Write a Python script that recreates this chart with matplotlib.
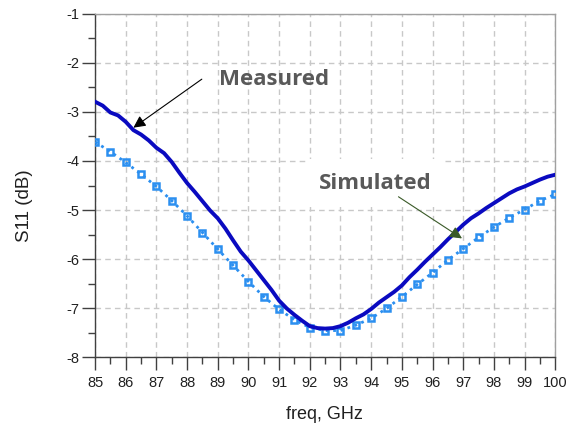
import matplotlib
matplotlib.use('Agg')
import matplotlib.pyplot as plt
from matplotlib.ticker import MultipleLocator

plt.rcParams['font.family'] = ['Liberation Sans', 'DejaVu Sans']
plt.rcParams['axes.unicode_minus'] = False

# 测量数据
meas_freq = [85.0, 85.25, 85.5, 85.75, 86.0, 86.25, 86.5, 86.75, 87.0, 87.25,
             87.5, 87.75, 88.0, 88.25, 88.5, 88.75, 89.0, 89.25, 89.5, 89.75,
             90.0, 90.25, 90.5, 90.75, 91.0, 91.25, 91.5, 91.75, 92.0, 92.25,
             92.5, 92.75, 93.0, 93.25, 93.5, 93.75, 94.0, 94.25, 94.5, 94.75,
             95.0, 95.25, 95.5, 95.75, 96.0, 96.25, 96.5, 96.75, 97.0, 97.25,
             97.5, 97.75, 98.0, 98.25, 98.5, 98.75, 99.0, 99.25, 99.5, 99.75,
             100.0]
meas_s11 = [-2.79, -2.87, -3.01, -3.07, -3.20, -3.37, -3.46, -3.58, -3.73, -3.84,
            -4.02, -4.24, -4.45, -4.63, -4.82, -5.01, -5.17, -5.38, -5.62, -5.85,
            -6.03, -6.23, -6.43, -6.63, -6.85, -7.01, -7.14, -7.26, -7.37, -7.41,
            -7.42, -7.41, -7.37, -7.30, -7.21, -7.13, -7.02, -6.89, -6.78, -6.67,
            -6.54, -6.37, -6.22, -6.06, -5.91, -5.76, -5.60, -5.45, -5.30, -5.17,
            -5.07, -4.96, -4.86, -4.76, -4.66, -4.58, -4.52, -4.45, -4.38, -4.32,
            -4.28]

# 仿真数据
sim_freq = [85.0, 85.5, 86.0, 86.5, 87.0, 87.5, 88.0, 88.5, 89.0, 89.5,
            90.0, 90.5, 91.0, 91.5, 92.0, 92.5, 93.0, 93.5, 94.0, 94.5,
            95.0, 95.5, 96.0, 96.5, 97.0, 97.5, 98.0, 98.5, 99.0, 99.5, 100.0]
sim_s11 = [-3.61, -3.81, -4.03, -4.27, -4.52, -4.81, -5.12, -5.46, -5.80, -6.13,
           -6.46, -6.77, -7.03, -7.24, -7.40, -7.46, -7.46, -7.35, -7.21, -7.01,
           -6.77, -6.52, -6.28, -6.02, -5.79, -5.56, -5.35, -5.16, -4.99, -4.81,
           -4.68]

fig = plt.figure(figsize=(5.76, 4.24), dpi=100)
ax = fig.add_axes([0.165, 0.158, 0.799, 0.809])

ax.plot(sim_freq, sim_s11, color='#2b8ff0', linestyle=':', linewidth=2,
        marker='s', markersize=5, markerfacecolor='none',
        markeredgecolor='#2b8ff0', markeredgewidth=1.8, zorder=3)
ax.plot(meas_freq, meas_s11, color='#0a0ac0', linewidth=2.8, zorder=4)

ax.set_xlim(85, 100)
ax.set_ylim(-8, -1)
ax.xaxis.set_major_locator(MultipleLocator(1))
ax.xaxis.set_minor_locator(MultipleLocator(0.5))
ax.yaxis.set_major_locator(MultipleLocator(1))
ax.yaxis.set_minor_locator(MultipleLocator(0.5))

ax.grid(True, which='major', color='#c8c8c8', linestyle=(0, (4, 3)), linewidth=1)
ax.set_axisbelow(True)

for s in ['left', 'bottom']:
    ax.spines[s].set_color('#404040')
    ax.spines[s].set_linewidth(1)
for s in ['top', 'right']:
    ax.spines[s].set_color('#a0a0a0')
    ax.spines[s].set_linewidth(1)

ax.tick_params(which='major', length=9.5, width=1, color='#404040',
               labelsize=10.5, labelcolor='#202020')
ax.tick_params(which='minor', length=5, width=1, color='#404040')
ax.tick_params(axis='y', which='major', pad=1.5)
ax.tick_params(axis='x', which='major', pad=4)

ax.set_xlabel('freq, GHz', fontsize=13, color='#202020')
ax.set_ylabel('S11 (dB)', fontsize=13.5, color='#202020')
ax.xaxis.set_label_coords(0.498, -0.142)
ax.yaxis.set_label_coords(-0.135, 0.44)

# 标注
ax.text(89.05, -2.33, 'Measured', fontsize=16, fontweight='bold',
        color='#595959', family=['Open Sans', 'DejaVu Sans'], ha='left', va='center',
        zorder=5)
ax.annotate('', xy=(86.25, -3.32), xytext=(88.48, -2.33),
            arrowprops=dict(arrowstyle='-|>', color='black', lw=0.8,
                            mutation_scale=18, shrinkA=0, shrinkB=0),
            zorder=5)

ax.text(94.14, -4.45, 'Simulated', fontsize=16, fontweight='bold',
        color='#595959', family=['Open Sans', 'DejaVu Sans'], ha='center', va='center',
        bbox=dict(boxstyle='square,pad=0.6', facecolor='white', edgecolor='none'),
        zorder=2)
ax.annotate('', xy=(96.96, -5.58), xytext=(94.89, -4.73),
            arrowprops=dict(arrowstyle='-|>', color='#3a5a28', lw=0.8,
                            mutation_scale=18, shrinkA=0, shrinkB=0),
            zorder=5)

fig.savefig('out.png', dpi=100)
